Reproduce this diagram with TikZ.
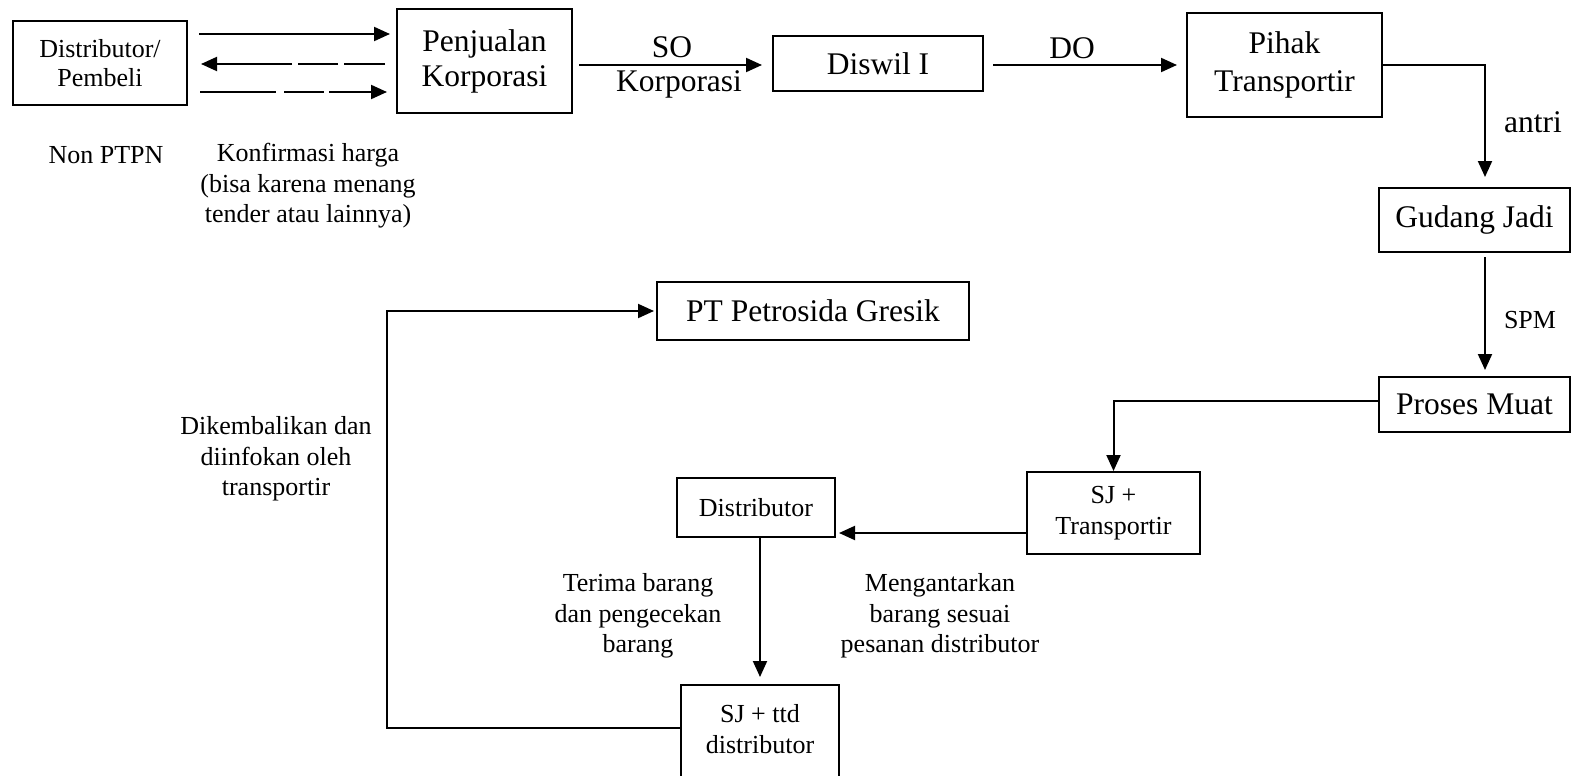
\documentclass[tikz,border=0pt]{standalone}
\usepackage{fontspec}
\setmainfont{Liberation Serif}
\usetikzlibrary{arrows.meta}
\begin{document}
\begin{tikzpicture}[x=1pt,y=-1pt,
  box/.style={draw, line width=2pt, inner sep=0pt, align=center},
  big/.style={font=\fontsize{31.5pt}{36pt}\selectfont},
  med/.style={font=\fontsize{26pt}{30.5pt}\selectfont},
  lbl/.style={inner sep=0pt, align=center},
  arr/.style={line width=2pt, -{Triangle[length=16pt,width=14pt]}},
]
\useasboundingbox (0,0) rectangle (1571,776);

% process boxes
\node[box, minimum width=174pt, minimum height=84pt, font=\fontsize{26pt}{29pt}\selectfont] (db) at (100,63) {Distributor/\\Pembeli};
\node[box, minimum width=175pt, minimum height=104pt, font=\fontsize{31.5pt}{35pt}\selectfont] (pk) at (484.5,61) {Penjualan\\Korporasi};
\node[box, big, minimum width=210pt, minimum height=55pt] (dw) at (878,63.5) {Diswil I};
\node[box, minimum width=195pt, minimum height=104pt, font=\fontsize{31.5pt}{38pt}\selectfont] (pt) at (1284.5,65) {Pihak\\Transportir};
\node[box, big, minimum width=191pt, minimum height=64pt] (gj) at (1474.5,220) {Gudang Jadi};
\node[box, big, minimum width=191pt, minimum height=55pt] (pm) at (1474.5,404.5) {Proses Muat};
\node[box, med, minimum width=173pt, minimum height=82pt] (sjt) at (1113.5,513) {SJ +\\Transportir};
\node[box, med, minimum width=158pt, minimum height=59pt] (dist) at (756,507.5) {Distributor};
\node[box, minimum width=158pt, minimum height=115pt] (sjttd) at (760,742.5) {};
\node[lbl, med] (sjttdtext) at (760,729) {SJ + ttd\\distributor};
\node[box, big, minimum width=312pt, minimum height=58pt] (ptg) at (813,311) {PT Petrosida Gresik};

% labels
\node[lbl, big] (so) at (672,47) {SO};
\node[lbl, big] (korp) at (679,84) {Korporasi};
\node[lbl, big] (do) at (1072,48) {DO};
\node[lbl, big] (antri) at (1533,122) {antri};
\node[lbl, med] (spm) at (1530,320) {SPM};
\node[lbl, med] (nonptpn) at (106,155) {Non PTPN};
\node[lbl, med] (konf) at (308,186) {Konfirmasi harga\\(bisa karena menang\\tender atau lainnya)};
\node[lbl, med] (kembali) at (276,459) {Dikembalikan dan\\diinfokan oleh\\transportir};
\node[lbl, med] (terima) at (638,616) {Terima barang\\dan pengecekan\\barang};
\node[lbl, med] (antar) at (940,616) {Mengantarkan\\barang sesuai\\pesanan distributor};

% connectors between buyer and corporate sales
\coordinate (l2) at ([yshift=-1pt]db.east);
\coordinate (l3) at ([yshift=-29pt]db.east);
\draw[arr, shorten <=11pt, shorten >=6pt] ([yshift=29pt]db.east) coordinate (l1) -- (pk.west |- l1);
\draw[arr, dash pattern=on 41pt off 6pt on 40pt off 6pt on 400pt, shorten <=11pt, shorten >=13pt] (pk.west |- l2) -- (l2);
\draw[arr, dash pattern=on 76pt off 8pt on 40pt off 5pt on 400pt, shorten <=12pt, shorten >=9pt] (l3) -- (pk.west |- l3);

% main flow
\draw[arr, shorten <=6pt, shorten >=10pt] ([yshift=-4pt]pk.east) coordinate (s0) -- (dw.west |- s0);
\draw[arr, shorten <=9pt, shorten >=9pt] ([yshift=-1.5pt]dw.east) coordinate (d0) -- (pt.west |- d0);
\draw[arr, shorten >=10pt] (pt.east) -| ([xshift=10.5pt]gj.north);
\draw[arr, shorten <=4pt, shorten >=6pt] ([xshift=10.5pt]gj.south) -- ([xshift=10.5pt]pm.north);
\draw[arr] ([yshift=3.5pt]pm.west) -| (sjt.north);
\draw[arr, shorten >=3pt] ([yshift=-20pt]sjt.west) coordinate (m0) -- (dist.east |- m0);
\draw[arr, shorten >=7pt] (sjttd.north |- dist.south) -- (sjttd.north);
\draw[arr, shorten >=2pt] ([yshift=14.5pt]sjttd.west) -- ++(-293,0) |- (ptg.west);
\end{tikzpicture}
\end{document}
